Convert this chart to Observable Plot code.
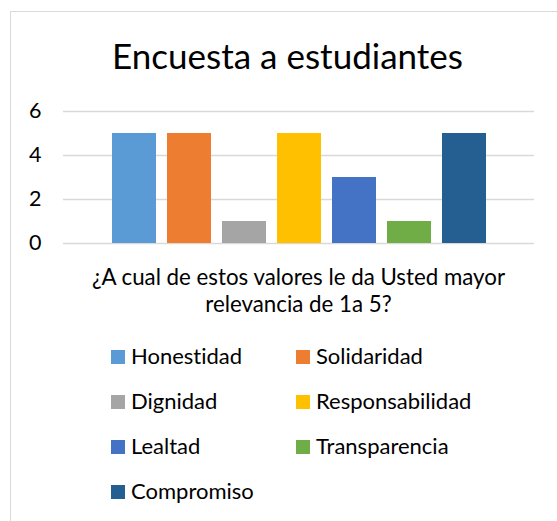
<!DOCTYPE html>
<html>
<head>
<meta charset="utf-8">
<script src="https://cdn.jsdelivr.net/npm/d3@7"></script>
<script src="https://cdn.jsdelivr.net/npm/@observablehq/plot@0.6"></script>
<style>
  html, body { margin: 0; padding: 0; background: #fff; }
  #wrap { position: relative; width: 557px; height: 521px; overflow: hidden; font-family: Lato, "Open Sans", sans-serif; color: #000; font-variant-ligatures: none; }
  #border { position: absolute; left: 10px; top: 11px; width: 700px; height: 700px; border: 1.5px solid #d9d9d9; box-sizing: border-box; }
  #title { position: absolute; left: 0; width: 575px; top: 34px; text-align: center; font-size: 35px; line-height: 1.2; white-space: nowrap; }
  #chart { position: absolute; left: 0; top: 95px; }
  #xlabel { position: absolute; left: 0; width: 597px; top: 263px; text-align: center; font-size: 22.3px; line-height: 27px; }
  #legend { position: absolute; left: 111px; top: 334.5px; display: grid; grid-template-columns: 185px 220px; grid-auto-rows: 45px; font-size: 22px; }
  .item { display: flex; align-items: center; white-space: nowrap; }
  .sw { width: 14px; height: 14px; margin-right: 6px; flex: none; }
  .lbl { line-height: 1.2; position: relative; top: -1px; }
</style>
</head>
<body>
<div id="wrap">
  <div id="border"></div>
  <div id="title"></div>
  <div id="chart"></div>
  <div id="xlabel"></div>
  <div id="legend"></div>
</div>
<script>
const titleText = "Encuesta a estudiantes";
const xLabelLines = ["¿A cual de estos valores le da Usted mayor", "relevancia de 1a 5?"];
const categories = ["Honestidad", "Solidaridad", "Dignidad", "Responsabilidad", "Lealtad", "Transparencia", "Compromiso"];
const values = [5, 5, 1, 5, 3, 1, 5];
const colors = ["#5B9BD5", "#ED7D31", "#A5A5A5", "#FFC000", "#4472C4", "#70AD47", "#255E91"];
const yTicks = [0, 2, 4, 6];

const data = categories.map((c, i) => ({name: c, value: values[i]}));

document.getElementById("title").textContent = titleText;
const xl = document.getElementById("xlabel");
xLabelLines.forEach(l => { const d = document.createElement("div"); d.textContent = l; xl.appendChild(d); });

const chart = Plot.plot({
  width: 557,
  height: 156,
  marginTop: 16,
  marginBottom: 8,
  marginLeft: 63,
  marginRight: 23,
  style: {fontFamily: "Lato, 'Open Sans', sans-serif", fontSize: "21.5px", color: "#000", background: "transparent", overflow: "visible"},
  x: {type: "band", domain: categories, paddingInner: 0.205, paddingOuter: 0.8675, axis: null},
  y: {domain: [0, 6], axis: null},
  color: {domain: categories, range: colors},
  marks: [
    Plot.gridY(yTicks, {stroke: "#d9d9d9", strokeOpacity: 1, strokeWidth: 1.4}),
    Plot.barY(data, {x: "name", y: "value", fill: "name"}),
    Plot.axisY(yTicks, {tickSize: 0, tickPadding: 22, label: null, fill: "#000", fontSize: 21.5})
  ]
});
document.getElementById("chart").appendChild(chart);

const legend = document.getElementById("legend");
categories.forEach((c, i) => {
  const it = document.createElement("div");
  it.className = "item";
  const sw = document.createElement("span");
  sw.className = "sw";
  sw.style.background = colors[i];
  const lb = document.createElement("span");
  lb.className = "lbl";
  lb.textContent = c;
  it.appendChild(sw); it.appendChild(lb);
  legend.appendChild(it);
});
</script>
</body>
</html>
